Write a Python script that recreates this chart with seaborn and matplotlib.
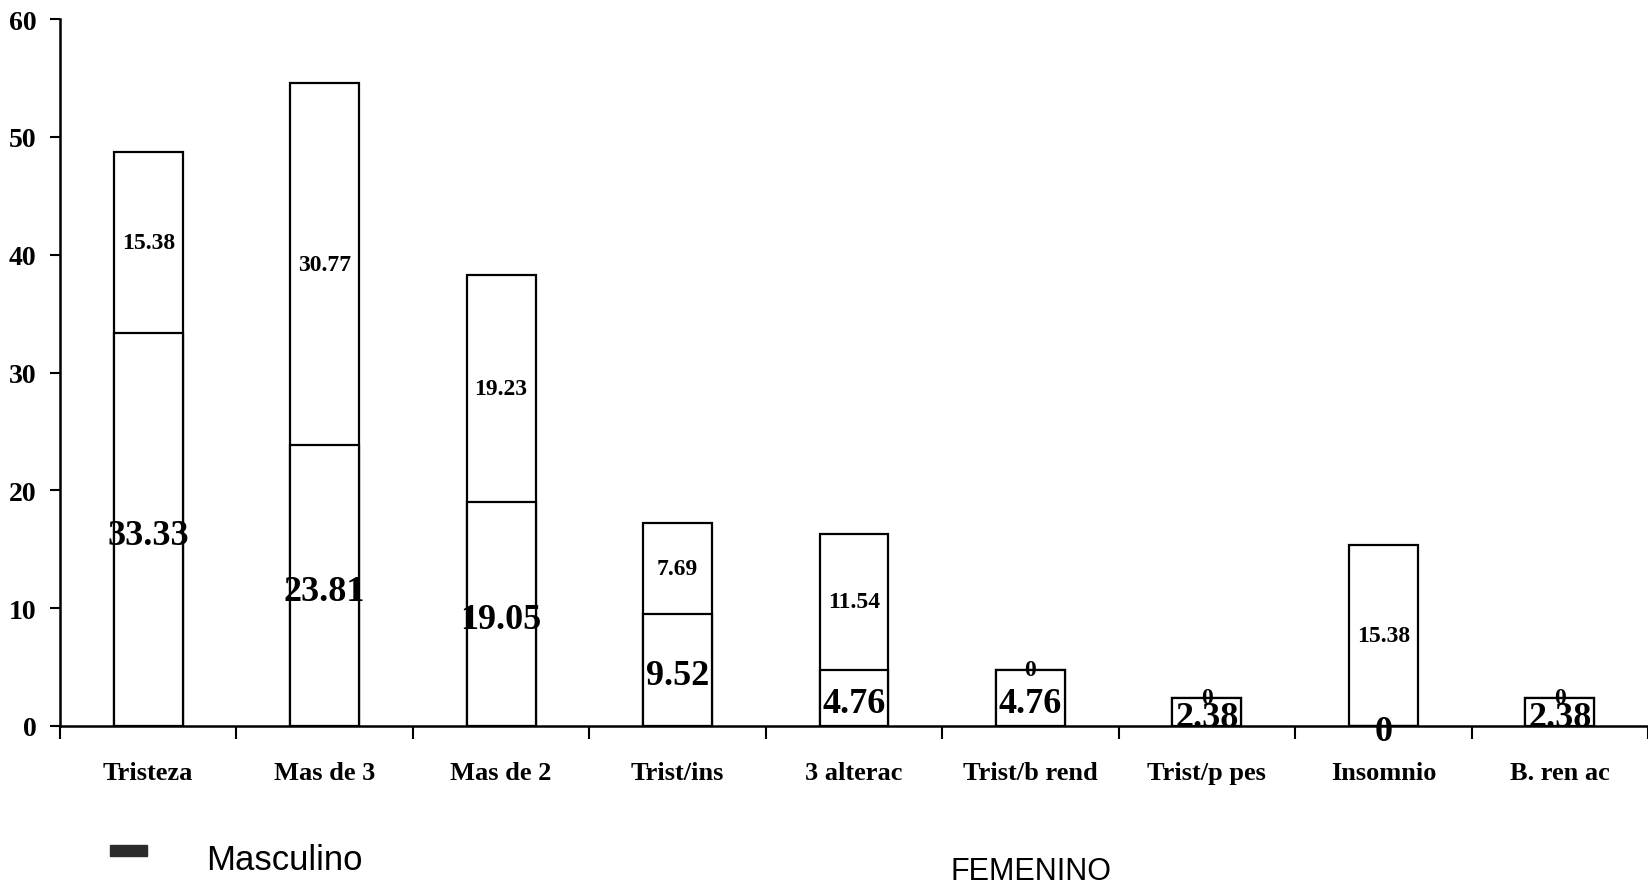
import numpy as np
import pandas as pd
import matplotlib
matplotlib.use("Agg")
import matplotlib.pyplot as plt
import seaborn as sns
from matplotlib.patches import Rectangle

# Data
categorias = ["Tristeza", "Mas de 3", "Mas de 2", "Trist/ins", "3 alterac",
              "Trist/b rend", "Trist/p pes", "Insomnio", "B. ren ac"]
serie_base = [33.33, 23.81, 19.05, 9.52, 4.76, 4.76, 2.38, 0, 2.38]
serie_sup = [15.38, 30.77, 19.23, 7.69, 11.54, 0, 0, 15.38, 0]
y_ticks = [0, 10, 20, 30, 40, 50, 60]

df = pd.DataFrame({"categoria": categorias, "base": serie_base, "sup": serie_sup})
df["total"] = df["base"] + df["sup"]

sns.set_theme(style="ticks")
plt.rcParams["font.family"] = ["Liberation Serif", "DejaVu Serif"]

fig = plt.figure(figsize=(16.48, 8.87), dpi=100)
ax = fig.add_axes([0.0364, 0.1804, 0.9636, 0.797])

bar_kw = dict(color="white", edgecolor="black", linewidth=1.6, width=0.39,
              saturation=1, ax=ax)
# full stacked height first, then the lower segment over it
sns.barplot(data=df, x="categoria", y="total", **bar_kw)
sns.barplot(data=df, x="categoria", y="base", **bar_kw)

# value labels centred in each segment
for i, (b, t) in enumerate(zip(serie_base, serie_sup)):
    ax.annotate(f"{b:g}", (i, b / 2), xytext=(0, -4), textcoords="offset points",
                ha="center", va="center", fontsize=26, fontweight="bold",
                color="black")
    ax.text(i, b + t / 2, f"{t:g}", ha="center", va="center",
            fontsize=17, fontweight="bold", color="black")

ax.set_xlim(-0.5, len(categorias) - 0.5)
ax.set_ylim(0, 60)
ax.set_yticks(y_ticks)
ax.set_xticks(range(len(categorias)))
ax.set_xticklabels(categorias)
ax.set_xticks(np.arange(-0.5, len(categorias), 1), minor=True)
ax.set_xlabel("")
ax.set_ylabel("")

ax.tick_params(axis="x", which="major", length=0, pad=25, labelsize=19,
               labelcolor="black")
ax.tick_params(axis="x", which="minor", length=9, width=1.5, direction="out",
               color="black", bottom=True)
ax.tick_params(axis="y", length=7, width=1.5, direction="out", pad=10,
               labelsize=20, color="black", labelcolor="black", left=True)
for lbl in ax.get_xticklabels() + ax.get_yticklabels():
    lbl.set_fontweight("bold")

sns.despine(ax=ax)
for side in ("left", "bottom"):
    ax.spines[side].set_color("black")
    ax.spines[side].set_linewidth(1.8)

# legend-style key under the axes
fig.patches.append(Rectangle((110 / 1648, 1 - 857 / 887), 37 / 1648, 11 / 887,
                             transform=fig.transFigure, color="#2b2b2b"))
fig.text(206 / 1648, 1 - 861 / 887, "Masculino", family="Liberation Sans",
         fontsize=25, va="center", ha="left", color="black")
fig.text(1031 / 1648, 1 - 872 / 887, "FEMENINO", family="Liberation Sans",
         fontsize=22, va="center", ha="center", color="black")

fig.savefig("out.png", dpi=100)
